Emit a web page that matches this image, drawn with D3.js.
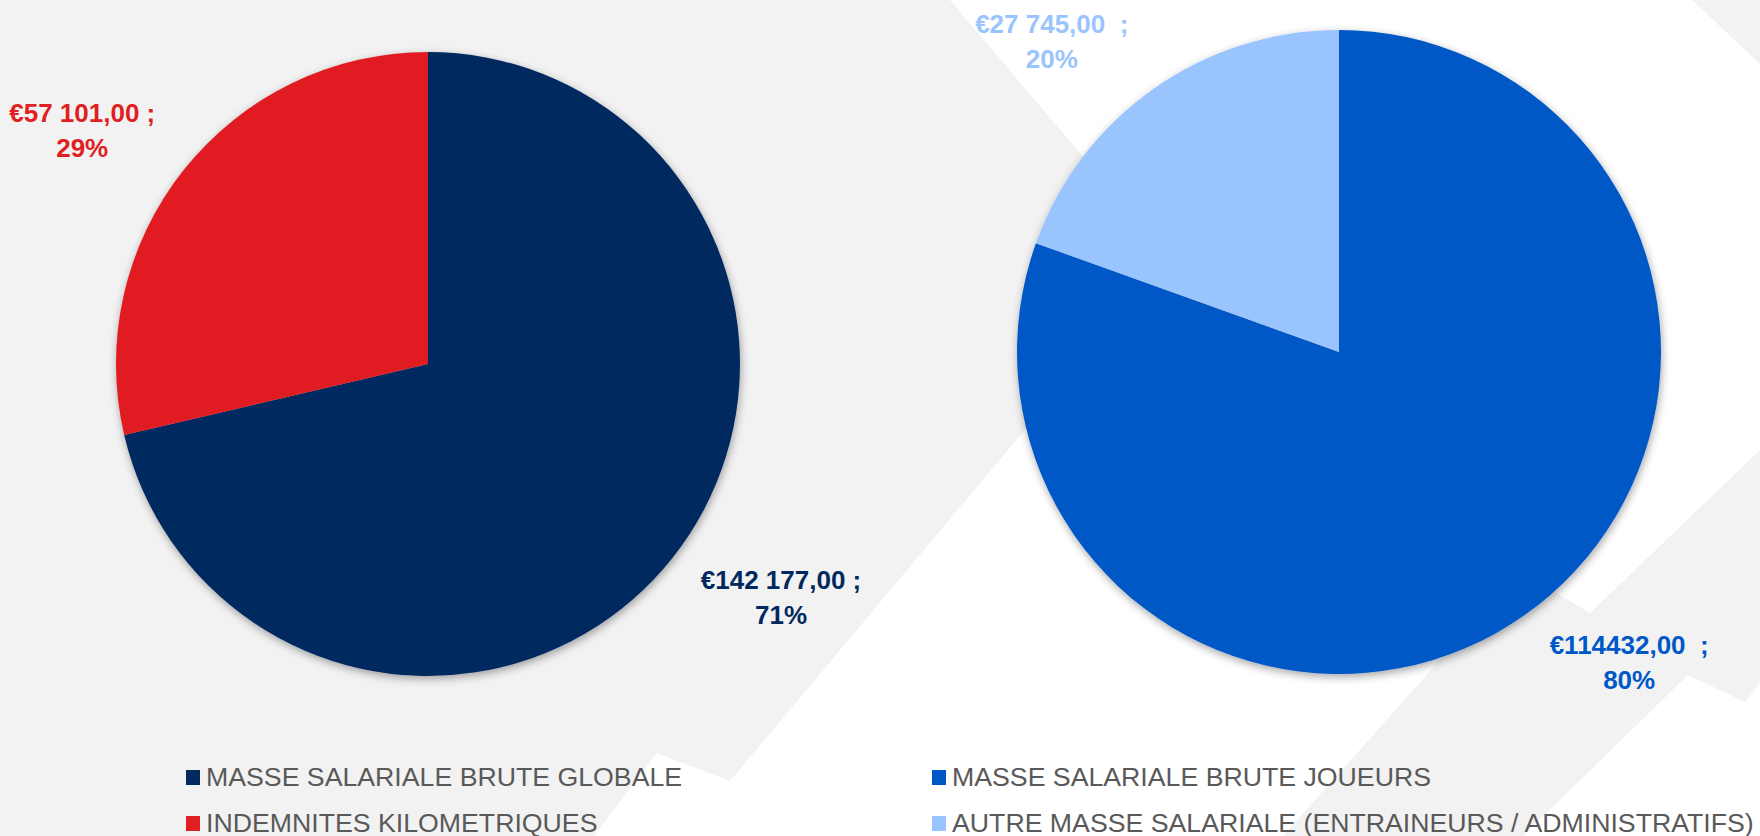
<!DOCTYPE html>
<html>
<head>
<meta charset="utf-8">
<script src="https://cdn.jsdelivr.net/npm/d3@7"></script>
<style>
  html, body { margin: 0; padding: 0; background: #ffffff; }
  svg { display: block; }
  text { font-family: "Liberation Sans", Arial, sans-serif; }
</style>
</head>
<body>
<div id="chart"></div>
<script>
// --- data ---
const globalCategories = ["MASSE SALARIALE BRUTE GLOBALE", "INDEMNITES KILOMETRIQUES"];
const globalValues = [142177, 57101];
const globalValueLabels = ["€142 177,00 ;", "€57 101,00 ;"];
const globalColors = ["#00295f", "#e01f22"];

const staffCategories = ["MASSE SALARIALE BRUTE JOUEURS", "AUTRE MASSE SALARIALE (ENTRAINEURS / ADMINISTRATIFS)"];
const staffValues = [114432, 27745];
const staffValueLabels = ["€114432,00  ;", "€27 745,00  ;"];
const staffColors = ["#0058c7", "#9ac4fd"];

const width = 1760;
const height = 836;

// decorative background shapes of the slide
const bgShapes = [
    [[0, 0], [950, 0], [1169, 258], [730, 781], [657, 753], [594, 836], [0, 836]],
    [[1692, 0], [1760, 0], [1760, 64]],
    [[1520, 571], [1590, 613], [1760, 450], [1760, 683], [1745, 702], [1688, 675], [1523, 836], [1283, 836], [1440, 660]]
];

const svg = d3.select("#chart").append("svg")
    .attr("width", width)
    .attr("height", height);

const defs = svg.append("defs");
defs.append("filter")
    .attr("id", "pieShadow")
    .attr("x", "-10%").attr("y", "-10%")
    .attr("width", "120%").attr("height", "120%")
    .append("feDropShadow")
    .attr("dx", 1)
    .attr("dy", 3)
    .attr("stdDeviation", 4)
    .attr("flood-color", "#000")
    .attr("flood-opacity", 0.35);

svg.selectAll(".bg")
    .data(bgShapes)
    .enter().append("polygon")
    .attr("class", "bg")
    .attr("points", d => d.map(p => p.join(",")).join(" "))
    .style("fill", "#f2f2f2");

const pctFormat = d3.format(".0%");
const labelTurn = -2 * Math.PI / 180; // labels sit a little counter-clockwise of the mid angle

function renderPie(categories, values, valueLabels, colors, opts) {
    const dataset = categories.map((c, i) => ({
        category: c,
        value: values[i],
        label: valueLabels[i],
        color: colors[i]
    }));
    const total = d3.sum(values);

    const pie = d3.pie().sort(null).value(d => d.value);
    const arc = d3.arc().innerRadius(0).outerRadius(opts.r);
    const labelArc = d3.arc().innerRadius(opts.r + 27).outerRadius(opts.r + 27);

    const g = svg.append("g")
        .attr("transform", "translate(" + opts.cx + "," + opts.cy + ")");

    g.append("g")
        .attr("filter", "url(#pieShadow)")
        .selectAll("path")
        .data(pie(dataset))
        .enter().append("path")
        .attr("d", arc)
        .style("fill", d => d.data.color);

    // data labels: value ; percent, nearest corner placed on the slice's mid-angle ray
    pie(dataset).forEach(a => {
        const [px, py] = labelArc.centroid({
            startAngle: a.startAngle + labelTurn,
            endAngle: a.endAngle + labelTurn
        });
        const t = g.append("text")
            .attr("text-anchor", "middle")
            .style("font-size", "26px")
            .style("font-weight", "bold")
            .style("white-space", "pre")
            .style("fill", a.data.color);
        t.append("tspan").attr("x", 0).attr("y", 0).text(a.data.label);
        t.append("tspan").attr("x", 0).attr("dy", 35).text(pctFormat(a.data.value / total));
        const b = t.node().getBBox();
        const tx = px >= 0 ? px - b.x : px - (b.x + b.width);
        const ty = py >= 0 ? py - b.y : py - (b.y + b.height);
        t.attr("transform", "translate(" + tx + "," + ty + ")");
    });

    // legend
    const legend = svg.append("g")
        .attr("transform", "translate(" + opts.legendX + "," + opts.legendY + ")");
    const item = legend.selectAll(".item")
        .data(dataset)
        .enter().append("g")
        .attr("class", "item")
        .attr("transform", (d, i) => "translate(0," + (i * 46) + ")");
    item.append("rect")
        .attr("x", 0)
        .attr("y", 0)
        .attr("width", 14)
        .attr("height", 15)
        .style("fill", d => d.color);
    item.append("text")
        .attr("x", 20)
        .attr("y", 16)
        .style("font-size", "26.7px")
        .style("fill", "#595959")
        .text(d => d.category);
}

renderPie(globalCategories, globalValues, globalValueLabels, globalColors,
    { cx: 428, cy: 364, r: 312, legendX: 186, legendY: 770 });

renderPie(staffCategories, staffValues, staffValueLabels, staffColors,
    { cx: 1339, cy: 352, r: 322, legendX: 932, legendY: 770 });
</script>
</body>
</html>
